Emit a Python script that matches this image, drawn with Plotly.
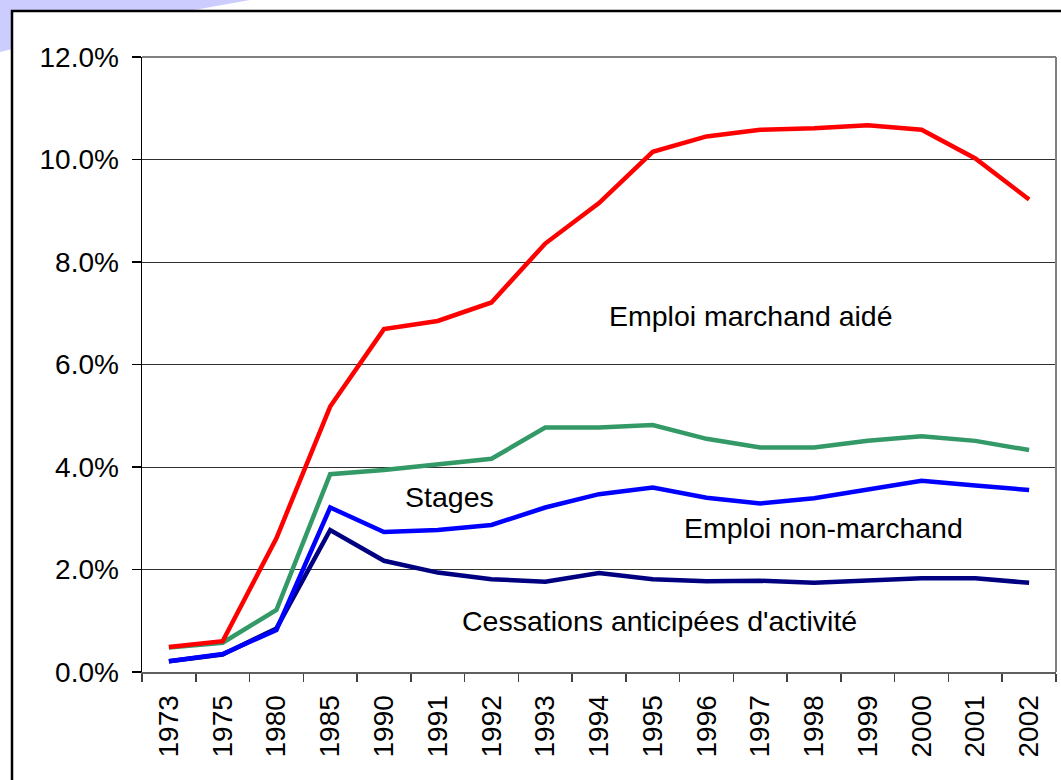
import plotly.graph_objects as go

years = ["1973", "1975", "1980", "1985", "1990", "1991", "1992", "1993", "1994",
         "1995", "1996", "1997", "1998", "1999", "2000", "2001", "2002"]

emploi_marchand_aide = [0.49, 0.60, 2.61, 5.18, 6.69, 6.85, 7.21, 8.36, 9.15,
                        10.15, 10.45, 10.58, 10.61, 10.67, 10.58, 10.02, 9.22]
stages = [0.48, 0.57, 1.21, 3.86, 3.94, 4.05, 4.16, 4.77, 4.77,
          4.82, 4.55, 4.38, 4.38, 4.51, 4.60, 4.51, 4.33]
emploi_non_marchand = [0.21, 0.35, 0.82, 3.21, 2.73, 2.77, 2.87, 3.21, 3.47,
                       3.60, 3.40, 3.29, 3.39, 3.56, 3.73, 3.64, 3.55]
cessations = [0.21, 0.34, 0.85, 2.77, 2.17, 1.94, 1.81, 1.76, 1.93,
              1.81, 1.77, 1.78, 1.74, 1.78, 1.83, 1.83, 1.74]

y_ticks = [0, 2, 4, 6, 8, 10, 12]

FONT = "Liberation Sans, Arial, sans-serif"
W, H = 1061, 780
L, R, T, B = 142, 5, 57, 108
PW, PH = W - L - R, H - T - B


def px(x):
    return (x - L) / PW


def py(y):
    return (H - B - y) / PH


fig = go.Figure()
series = [
    (cessations, "#000080", "Cessations anticipées d'activité"),
    (emploi_non_marchand, "#0000FF", "Emploi non-marchand"),
    (stages, "#339966", "Stages"),
    (emploi_marchand_aide, "#FF0000", "Emploi marchand aidé"),
]
for vals, col, name in series:
    fig.add_trace(go.Scatter(x=years, y=vals, mode="lines", name=name,
                             line=dict(color=col, width=4.5), showlegend=False,
                             hoverinfo="skip"))

shapes = [
    # lavender slide decoration in top-left corner
    dict(type="path", xref="paper", yref="paper", layer="below",
         path=f"M {px(0)},{py(0)} L {px(250)},{py(0)} Q {px(120)},{py(22)} {px(0)},{py(52)} Z",
         fillcolor="#CCCCFF", line=dict(width=0)),
    # chart box with black border
    dict(type="rect", xref="paper", yref="paper", layer="below",
         x0=px(12), x1=px(1064), y0=py(11), y1=py(800),
         fillcolor="white", line=dict(color="black", width=2.5)),
    # plot area border (top and right)
    dict(type="line", xref="paper", yref="paper", x0=0, x1=1, y0=1, y1=1,
         line=dict(color="#808080", width=2)),
    dict(type="line", xref="paper", yref="paper", x0=1, x1=1, y0=0, y1=1,
         line=dict(color="#808080", width=2)),
]

annotations = [
    dict(text="Emploi marchand aidé", x=10.83, y=6.95),
    dict(text="Stages", x=5.21, y=3.41),
    dict(text="Emploi non-marchand", x=12.18, y=2.81),
    dict(text="Cessations anticipées d'activité", x=9.13, y=1.0),
]
for a in annotations:
    a.update(xref="x", yref="y", showarrow=False,
             font=dict(family=FONT, size=28.5, color="black"),
             xanchor="center", yanchor="middle")

fig.update_layout(
    width=W, height=H,
    margin=dict(l=L, r=R, t=T, b=B, pad=0),
    paper_bgcolor="white",
    plot_bgcolor="rgba(0,0,0,0)",
    font=dict(family=FONT, size=28, color="black"),
    shapes=shapes,
    annotations=annotations,
    hovermode=False,
    xaxis=dict(
        type="category", range=[-0.5, len(years) - 0.5],
        tickson="boundaries", ticks="outside", ticklen=8, tickcolor="#404040",
        tickwidth=1.5, tickangle=-90, showgrid=False,
        showline=True, linecolor="#606060", linewidth=2,
        tickfont=dict(family=FONT, size=28, color="black"),
        ticklabelstandoff=10, zeroline=False,
    ),
    yaxis=dict(
        range=[0, 12], tickvals=y_ticks,
        ticktext=[f"{v:.1f}%" for v in y_ticks],
        ticks="outside", ticklen=9, tickcolor="black", tickwidth=1.5,
        showline=True, linecolor="black", linewidth=1.5,
        showgrid=True, gridcolor="#303030", gridwidth=1,
        zeroline=False,
        tickfont=dict(family=FONT, size=28, color="black"),
        ticklabelstandoff=7,
    ),
)

fig.write_html("out.html",
               config={"displayModeBar": False, "staticPlot": True},
               post_script="document.body.style.margin='0';document.body.style.overflow='hidden';")
